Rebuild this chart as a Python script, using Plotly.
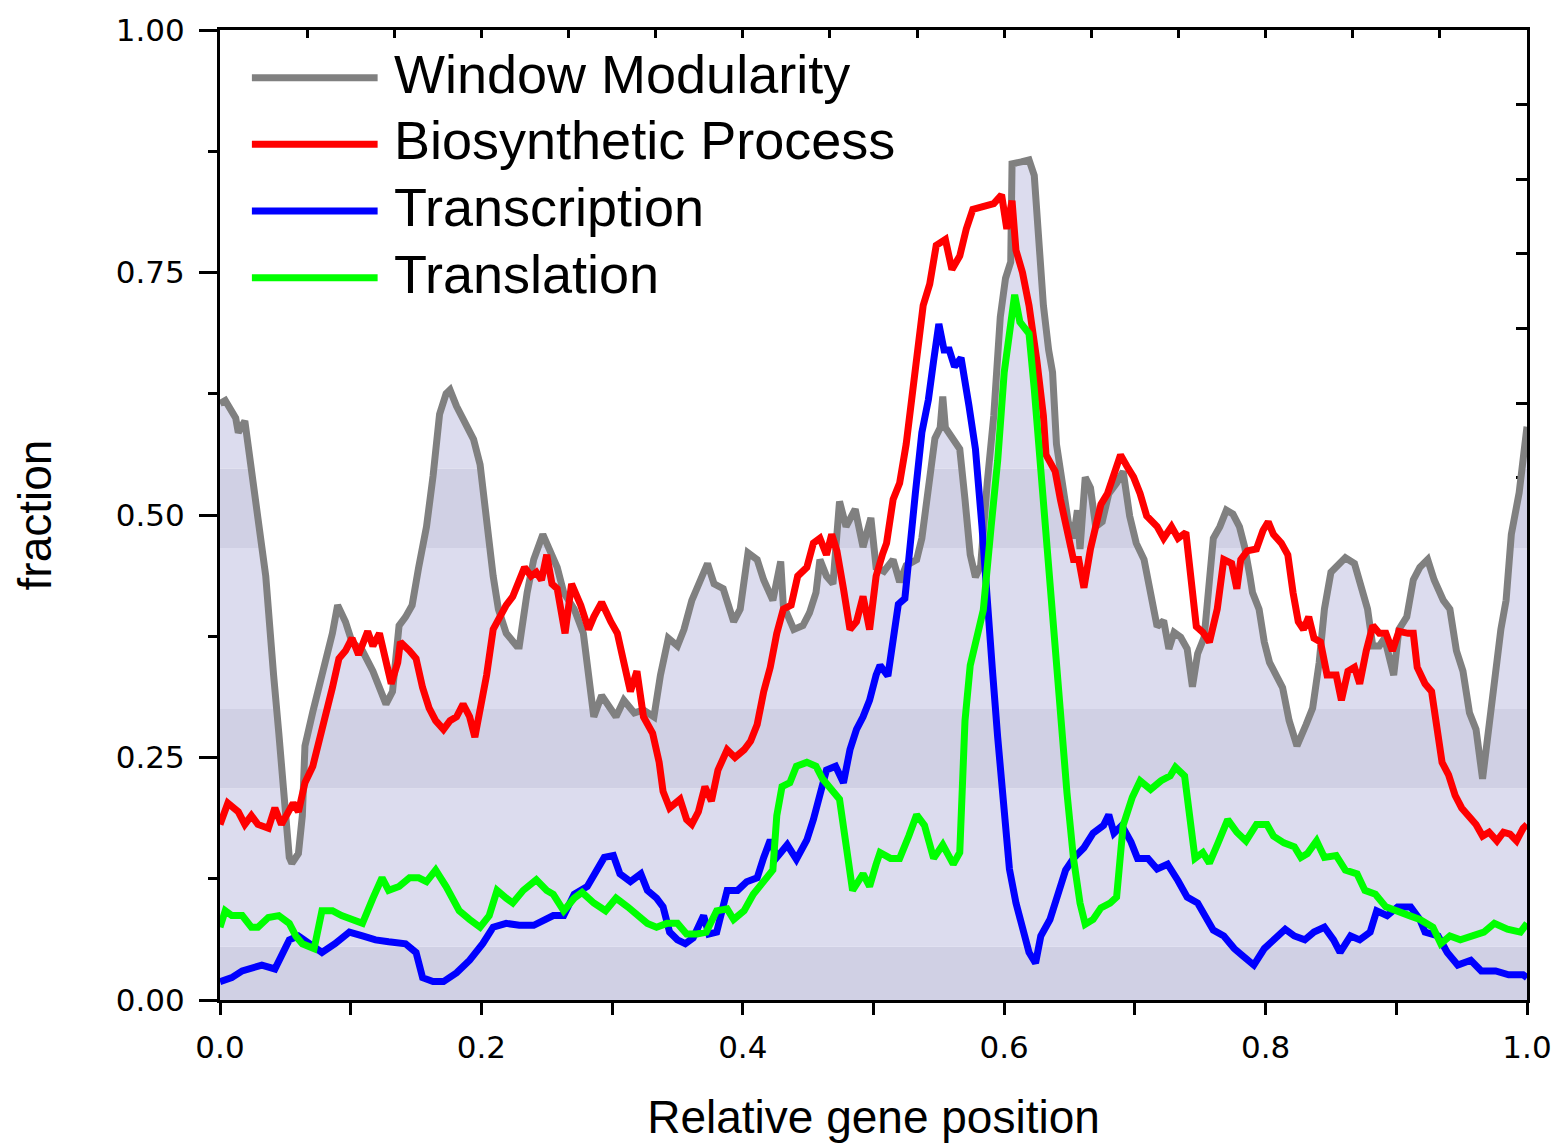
import plotly.graph_objects as go

# ---------------- data ----------------
wm_x = [0.000, 0.004, 0.012, 0.014, 0.019, 0.024, 0.029, 0.035, 0.037, 0.041, 0.045, 0.049, 0.053, 0.055,
        0.060, 0.063, 0.065, 0.071, 0.076, 0.081, 0.086, 0.090, 0.096, 0.101, 0.109, 0.117, 0.124, 0.127,
        0.132, 0.137, 0.142, 0.147, 0.152, 0.158, 0.163, 0.168, 0.173, 0.176, 0.181, 0.186, 0.194, 0.199,
        0.204, 0.209, 0.213, 0.219, 0.227, 0.229, 0.235, 0.240, 0.247, 0.253, 0.258, 0.263, 0.271, 0.278,
        0.282, 0.286, 0.292, 0.299, 0.303, 0.309, 0.317, 0.324, 0.332, 0.337, 0.343, 0.350, 0.355, 0.361,
        0.367, 0.373, 0.378, 0.385, 0.393, 0.398, 0.404, 0.411, 0.416, 0.423, 0.429, 0.431, 0.439, 0.446,
        0.451, 0.456, 0.459, 0.464, 0.469, 0.474, 0.479, 0.486, 0.492, 0.498, 0.502, 0.508, 0.515, 0.520,
        0.525, 0.533, 0.537, 0.542, 0.547, 0.551, 0.553, 0.555, 0.561, 0.566, 0.570, 0.574, 0.578, 0.582,
        0.587, 0.592, 0.597, 0.601, 0.605, 0.606, 0.613, 0.619, 0.623, 0.626, 0.630, 0.634, 0.637, 0.640,
        0.644, 0.649, 0.653, 0.656, 0.658, 0.662, 0.666, 0.670, 0.675, 0.680, 0.686, 0.691, 0.696, 0.701,
        0.707, 0.712, 0.717, 0.722, 0.726, 0.730, 0.735, 0.740, 0.744, 0.748, 0.753, 0.760, 0.765, 0.770,
        0.775, 0.780, 0.784, 0.788, 0.790, 0.795, 0.799, 0.803, 0.808, 0.813, 0.818, 0.824, 0.831, 0.836,
        0.841, 0.845, 0.850, 0.856, 0.861, 0.868, 0.873, 0.878, 0.882, 0.887, 0.891, 0.898, 0.902, 0.908,
        0.913, 0.918, 0.924, 0.929, 0.936, 0.941, 0.946, 0.951, 0.956, 0.961, 0.966, 0.971, 0.975, 0.980,
        0.984, 0.988, 0.994, 1.000]
wm_y = [0.615, 0.618, 0.600, 0.585, 0.597, 0.552, 0.497, 0.437, 0.399, 0.335, 0.275, 0.211, 0.147, 0.141,
        0.151, 0.190, 0.262, 0.297, 0.322, 0.348, 0.378, 0.407, 0.390, 0.369, 0.360, 0.339, 0.318, 0.305,
        0.318, 0.386, 0.395, 0.407, 0.446, 0.488, 0.540, 0.604, 0.625, 0.629, 0.612, 0.599, 0.578, 0.552,
        0.488, 0.437, 0.403, 0.378, 0.365, 0.365, 0.420, 0.454, 0.480, 0.463, 0.446, 0.420, 0.403, 0.378,
        0.339, 0.292, 0.314, 0.301, 0.292, 0.309, 0.296, 0.299, 0.292, 0.335, 0.373, 0.365, 0.382, 0.412,
        0.429, 0.450, 0.429, 0.424, 0.390, 0.403, 0.461, 0.454, 0.433, 0.412, 0.452, 0.407, 0.382, 0.386,
        0.399, 0.420, 0.454, 0.437, 0.429, 0.514, 0.488, 0.506, 0.467, 0.497, 0.446, 0.442, 0.454, 0.431,
        0.448, 0.454, 0.476, 0.533, 0.579, 0.590, 0.622, 0.590, 0.579, 0.568, 0.516, 0.459, 0.436, 0.448,
        0.533, 0.602, 0.704, 0.744, 0.761, 0.862, 0.864, 0.866, 0.850, 0.784, 0.716, 0.670, 0.647, 0.573,
        0.533, 0.493, 0.476, 0.505, 0.465, 0.539, 0.528, 0.488, 0.493, 0.522, 0.533, 0.545, 0.499, 0.471,
        0.454, 0.419, 0.385, 0.391, 0.362, 0.379, 0.374, 0.362, 0.323, 0.357, 0.374, 0.476, 0.488, 0.505,
        0.501, 0.488, 0.467, 0.437, 0.420, 0.403, 0.369, 0.348, 0.335, 0.322, 0.288, 0.262, 0.284, 0.301,
        0.348, 0.403, 0.441, 0.450, 0.456, 0.450, 0.424, 0.403, 0.365, 0.365, 0.373, 0.335, 0.382, 0.395,
        0.433, 0.446, 0.454, 0.433, 0.412, 0.403, 0.360, 0.339, 0.296, 0.279, 0.228, 0.288, 0.331, 0.382,
        0.412, 0.480, 0.523, 0.591]

bio_x = [0.000, 0.006, 0.014, 0.019, 0.024, 0.029, 0.037, 0.042, 0.047, 0.053, 0.056, 0.060, 0.065, 0.071,
         0.076, 0.081, 0.086, 0.091, 0.096, 0.101, 0.106, 0.113, 0.117, 0.122, 0.127, 0.131, 0.136, 0.138,
         0.145, 0.150, 0.155, 0.160, 0.165, 0.171, 0.176, 0.181, 0.186, 0.191, 0.195, 0.199, 0.204, 0.209,
         0.214, 0.219, 0.224, 0.229, 0.233, 0.238, 0.242, 0.246, 0.250, 0.254, 0.258, 0.264, 0.269, 0.276,
         0.282, 0.286, 0.292, 0.299, 0.304, 0.309, 0.314, 0.319, 0.324, 0.331, 0.336, 0.339, 0.344, 0.352,
         0.357, 0.361, 0.366, 0.371, 0.376, 0.381, 0.388, 0.394, 0.401, 0.406, 0.411, 0.416, 0.421, 0.426,
         0.431, 0.437, 0.442, 0.449, 0.454, 0.459, 0.464, 0.468, 0.472, 0.477, 0.482, 0.487, 0.492, 0.497,
         0.502, 0.507, 0.510, 0.515, 0.520, 0.525, 0.529, 0.533, 0.538, 0.543, 0.548, 0.555, 0.560, 0.566,
         0.571, 0.576, 0.584, 0.592, 0.598, 0.602, 0.606, 0.609, 0.614, 0.619, 0.625, 0.630, 0.632, 0.639,
         0.643, 0.648, 0.653, 0.657, 0.661, 0.666, 0.674, 0.679, 0.684, 0.689, 0.694, 0.699, 0.704, 0.709,
         0.717, 0.722, 0.728, 0.733, 0.739, 0.743, 0.747, 0.752, 0.757, 0.763, 0.768, 0.774, 0.778, 0.781,
         0.786, 0.793, 0.798, 0.802, 0.806, 0.812, 0.817, 0.821, 0.825, 0.829, 0.833, 0.837, 0.842, 0.847,
         0.854, 0.858, 0.863, 0.868, 0.872, 0.877, 0.882, 0.887, 0.892, 0.897, 0.902, 0.909, 0.913, 0.916,
         0.922, 0.927, 0.931, 0.935, 0.940, 0.945, 0.950, 0.956, 0.961, 0.966, 0.971, 0.977, 0.982, 0.987,
         0.992, 0.997, 1.000]
bio_y = [0.181, 0.203, 0.194, 0.181, 0.190, 0.181, 0.177, 0.198, 0.181, 0.198, 0.203, 0.194, 0.224, 0.241,
         0.267, 0.292, 0.322, 0.352, 0.360, 0.373, 0.356, 0.380, 0.365, 0.378, 0.352, 0.326, 0.348, 0.369,
         0.360, 0.352, 0.322, 0.301, 0.288, 0.279, 0.288, 0.292, 0.305, 0.292, 0.271, 0.296, 0.335, 0.382,
         0.395, 0.407, 0.416, 0.433, 0.446, 0.437, 0.441, 0.433, 0.459, 0.429, 0.424, 0.378, 0.429, 0.407,
         0.382, 0.395, 0.410, 0.390, 0.378, 0.348, 0.318, 0.339, 0.292, 0.275, 0.245, 0.215, 0.198, 0.207,
         0.186, 0.181, 0.194, 0.220, 0.205, 0.237, 0.258, 0.250, 0.258, 0.267, 0.284, 0.318, 0.343, 0.378,
         0.403, 0.407, 0.437, 0.446, 0.471, 0.476, 0.459, 0.480, 0.463, 0.424, 0.382, 0.390, 0.416, 0.382,
         0.437, 0.460, 0.471, 0.516, 0.533, 0.573, 0.619, 0.670, 0.716, 0.738, 0.778, 0.784, 0.753, 0.767,
         0.795, 0.815, 0.818, 0.821, 0.830, 0.795, 0.824, 0.773, 0.750, 0.716, 0.659, 0.602, 0.562, 0.545,
         0.516, 0.488, 0.454, 0.454, 0.425, 0.465, 0.511, 0.522, 0.545, 0.562, 0.550, 0.539, 0.522, 0.499,
         0.488, 0.476, 0.488, 0.476, 0.482, 0.431, 0.385, 0.379, 0.369, 0.403, 0.454, 0.450, 0.424, 0.454,
         0.463, 0.465, 0.484, 0.493, 0.480, 0.471, 0.459, 0.420, 0.390, 0.382, 0.395, 0.373, 0.369, 0.335,
         0.335, 0.309, 0.339, 0.343, 0.326, 0.360, 0.386, 0.378, 0.378, 0.360, 0.380, 0.378, 0.378, 0.343,
         0.326, 0.318, 0.275, 0.245, 0.232, 0.211, 0.198, 0.190, 0.181, 0.169, 0.173, 0.164, 0.173, 0.171,
         0.164, 0.177, 0.181]

tsc_x = [0.000, 0.009, 0.017, 0.024, 0.032, 0.042, 0.047, 0.053, 0.060, 0.068, 0.078, 0.088, 0.099, 0.109,
         0.119, 0.129, 0.142, 0.150, 0.155, 0.163, 0.171, 0.181, 0.191, 0.201, 0.209, 0.219, 0.229, 0.240,
         0.250, 0.255, 0.263, 0.271, 0.281, 0.288, 0.294, 0.301, 0.306, 0.314, 0.322, 0.327, 0.334, 0.339,
         0.344, 0.350, 0.356, 0.362, 0.370, 0.374, 0.380, 0.388, 0.396, 0.403, 0.411, 0.416, 0.421, 0.426,
         0.434, 0.441, 0.449, 0.454, 0.459, 0.464, 0.471, 0.477, 0.482, 0.487, 0.492, 0.497, 0.502, 0.505,
         0.511, 0.515, 0.519, 0.524, 0.528, 0.532, 0.537, 0.542, 0.546, 0.550, 0.554, 0.558, 0.562, 0.567,
         0.573, 0.578, 0.583, 0.587, 0.591, 0.595, 0.599, 0.604, 0.609, 0.614, 0.619, 0.624, 0.628, 0.635,
         0.641, 0.647, 0.653, 0.661, 0.668, 0.676, 0.680, 0.684, 0.690, 0.697, 0.702, 0.710, 0.717, 0.725,
         0.733, 0.740, 0.748, 0.756, 0.760, 0.768, 0.776, 0.783, 0.791, 0.799, 0.807, 0.815, 0.822, 0.830,
         0.837, 0.845, 0.852, 0.857, 0.865, 0.872, 0.880, 0.885, 0.893, 0.901, 0.911, 0.918, 0.922, 0.932,
         0.939, 0.947, 0.957, 0.965, 0.976, 0.986, 0.997, 1.000]
tsc_y = [0.019, 0.023, 0.030, 0.032, 0.036, 0.032, 0.045, 0.062, 0.066, 0.058, 0.049, 0.058, 0.070, 0.066,
         0.062, 0.060, 0.058, 0.049, 0.023, 0.019, 0.019, 0.028, 0.041, 0.058, 0.075, 0.079, 0.077, 0.077,
         0.083, 0.087, 0.087, 0.109, 0.117, 0.134, 0.147, 0.149, 0.130, 0.122, 0.130, 0.113, 0.105, 0.096,
         0.070, 0.062, 0.058, 0.064, 0.087, 0.068, 0.070, 0.113, 0.113, 0.122, 0.126, 0.147, 0.165, 0.147,
         0.160, 0.145, 0.165, 0.186, 0.211, 0.237, 0.241, 0.224, 0.258, 0.279, 0.292, 0.309, 0.335, 0.345,
         0.334, 0.374, 0.408, 0.414, 0.476, 0.522, 0.585, 0.619, 0.659, 0.697, 0.670, 0.670, 0.653, 0.662,
         0.613, 0.568, 0.488, 0.402, 0.340, 0.271, 0.203, 0.135, 0.100, 0.072, 0.049, 0.038, 0.066, 0.083,
         0.106, 0.134, 0.146, 0.157, 0.172, 0.180, 0.191, 0.172, 0.180, 0.163, 0.146, 0.146, 0.135, 0.140,
         0.123, 0.106, 0.100, 0.083, 0.072, 0.066, 0.053, 0.045, 0.036, 0.053, 0.062, 0.073, 0.066, 0.062,
         0.070, 0.075, 0.062, 0.049, 0.066, 0.062, 0.070, 0.092, 0.087, 0.096, 0.096, 0.083, 0.070, 0.066,
         0.049, 0.036, 0.041, 0.030, 0.030, 0.026, 0.026, 0.023]

tsl_x = [0.000, 0.004, 0.009, 0.017, 0.024, 0.029, 0.037, 0.045, 0.053, 0.058, 0.063, 0.072, 0.078, 0.086,
         0.093, 0.101, 0.109, 0.117, 0.124, 0.129, 0.137, 0.145, 0.152, 0.158, 0.165, 0.173, 0.178, 0.183,
         0.191, 0.199, 0.206, 0.212, 0.219, 0.224, 0.232, 0.242, 0.250, 0.255, 0.263, 0.271, 0.277, 0.286,
         0.295, 0.303, 0.312, 0.319, 0.327, 0.334, 0.342, 0.350, 0.357, 0.365, 0.372, 0.380, 0.388, 0.393,
         0.401, 0.408, 0.416, 0.423, 0.426, 0.430, 0.436, 0.441, 0.449, 0.456, 0.461, 0.469, 0.474, 0.479,
         0.484, 0.492, 0.497, 0.502, 0.505, 0.513, 0.520, 0.527, 0.533, 0.539, 0.546, 0.553, 0.561, 0.566,
         0.570, 0.574, 0.579, 0.584, 0.590, 0.595, 0.600, 0.605, 0.608, 0.612, 0.619, 0.623, 0.628, 0.633,
         0.638, 0.643, 0.648, 0.653, 0.658, 0.662, 0.668, 0.674, 0.681, 0.686, 0.691, 0.698, 0.704, 0.712,
         0.720, 0.727, 0.731, 0.738, 0.742, 0.746, 0.752, 0.757, 0.763, 0.771, 0.778, 0.785, 0.793, 0.801,
         0.806, 0.814, 0.822, 0.827, 0.832, 0.839, 0.845, 0.854, 0.861, 0.870, 0.876, 0.884, 0.892, 0.902,
         0.910, 0.918, 0.928, 0.934, 0.941, 0.949, 0.959, 0.967, 0.975, 0.985, 0.995, 1.000]
tsl_y = [0.075, 0.092, 0.087, 0.087, 0.075, 0.075, 0.085, 0.087, 0.079, 0.066, 0.058, 0.053, 0.092, 0.092,
         0.087, 0.083, 0.079, 0.105, 0.126, 0.113, 0.117, 0.126, 0.126, 0.122, 0.134, 0.117, 0.105, 0.092,
         0.083, 0.075, 0.087, 0.113, 0.105, 0.100, 0.113, 0.124, 0.113, 0.109, 0.092, 0.105, 0.111, 0.100,
         0.092, 0.105, 0.096, 0.087, 0.079, 0.075, 0.079, 0.079, 0.068, 0.068, 0.070, 0.092, 0.094, 0.083,
         0.092, 0.109, 0.122, 0.134, 0.190, 0.220, 0.224, 0.241, 0.245, 0.241, 0.228, 0.215, 0.207, 0.160,
         0.113, 0.130, 0.117, 0.140, 0.152, 0.146, 0.146, 0.169, 0.191, 0.180, 0.146, 0.160, 0.140, 0.152,
         0.288, 0.345, 0.374, 0.402, 0.488, 0.556, 0.647, 0.704, 0.727, 0.699, 0.687, 0.630, 0.545, 0.454,
         0.374, 0.300, 0.214, 0.146, 0.100, 0.078, 0.083, 0.095, 0.100, 0.106, 0.180, 0.209, 0.226, 0.217,
         0.226, 0.231, 0.240, 0.231, 0.191, 0.146, 0.152, 0.141, 0.160, 0.186, 0.173, 0.164, 0.181, 0.181,
         0.169, 0.162, 0.158, 0.147, 0.151, 0.164, 0.147, 0.149, 0.134, 0.130, 0.113, 0.109, 0.096, 0.092,
         0.087, 0.083, 0.075, 0.058, 0.066, 0.062, 0.066, 0.070, 0.079, 0.073, 0.070, 0.079]

series_names = ["Window Modularity", "Biosynthetic Process", "Transcription", "Translation"]
series_colors = ["#808080", "#ff0000", "#0000ff", "#00ff00"]

# shaded horizontal bands under the Window Modularity curve
band_levels = [0.055, 0.218, 0.300, 0.466, 0.548, 1.0]
band_colors = ["#d0d0e4", "#dcdcee", "#d0d0e4", "#dcdcee", "#d0d0e4", "#dcdcee"]

x_ticks = [0.0, 0.2, 0.4, 0.6, 0.8, 1.0]
y_ticks = [0.0, 0.25, 0.5, 0.75, 1.0]


def clip_below(xs, ys, level):
    cx, cy = [xs[0]], [min(ys[0], level)]
    for i in range(1, len(xs)):
        y0, y1 = ys[i - 1], ys[i]
        if (y0 - level) * (y1 - level) < 0:
            t = (level - y0) / (y1 - y0)
            cx.append(xs[i - 1] + t * (xs[i] - xs[i - 1]))
            cy.append(level)
        cx.append(xs[i])
        cy.append(min(y1, level))
    return cx, cy


fig = go.Figure()

for k, (lvl, col) in enumerate(zip(band_levels, band_colors)):
    bx, by = clip_below(wm_x, wm_y, lvl)
    fig.add_trace(go.Scatter(
        x=bx, y=by, mode="lines", line=dict(width=0, color=col),
        fill="tozeroy" if k == 0 else "tonexty", fillcolor=col,
        hoverinfo="skip", showlegend=False))

for name, xs, ys, col in zip(series_names, [wm_x, bio_x, tsc_x, tsl_x],
                             [wm_y, bio_y, tsc_y, tsl_y], series_colors):
    fig.add_trace(go.Scatter(x=xs, y=ys, name=name, mode="lines",
                             line=dict(color=col, width=7), showlegend=False))

# helper trace so the mirrored (top / right) axes are rendered
fig.add_trace(go.Scatter(x=[None], y=[None], xaxis="x2", yaxis="y2",
                         showlegend=False, hoverinfo="skip"))

# manual legend (long line samples like the original)
row_y = [0.9508, 0.8821, 0.8133, 0.7446]
for name, col, yy in zip(series_names, series_colors, row_y):
    fig.add_shape(type="line", xref="paper", yref="paper",
                  x0=0.0244, x1=0.1206, y0=yy, y1=yy,
                  line=dict(color=col, width=7))
    fig.add_annotation(text=name, xref="paper", yref="paper", x=0.1313, y=yy + 0.004,
                       xanchor="left", yanchor="middle", showarrow=False,
                       font=dict(family="Liberation Sans, Arial", size=54, color="black"))

tick_font = dict(family="DejaVu Sans", size=31, color="black")
title_font = dict(family="Liberation Sans, Arial", size=46, color="black")

fig.update_layout(
    width=1564, height=1146,
    margin=dict(l=220, r=34, t=27, b=144),
    paper_bgcolor="white", plot_bgcolor="white",
    xaxis=dict(range=[0, 1], tickvals=x_ticks, tickformat=".1f",
               ticks="outside", ticklen=12, tickwidth=3, tickcolor="black",
               minor=dict(dtick=0.1, tick0=0, ticks="outside", ticklen=12, tickwidth=3, tickcolor="black"),
               showline=True, linewidth=3, linecolor="black", showgrid=False, zeroline=False,
               tickfont=tick_font, ticklabelstandoff=6,
               title=dict(text="Relative gene position", font=title_font, standoff=37)),
    yaxis=dict(range=[0, 1], tickvals=y_ticks, tickformat=".2f",
               ticks="outside", ticklen=18, tickwidth=3, tickcolor="black",
               minor=dict(dtick=0.125, tick0=0, ticks="outside", ticklen=9, tickwidth=3, tickcolor="black"),
               showline=True, linewidth=3, linecolor="black", showgrid=False, zeroline=False,
               tickfont=tick_font, ticklabelstandoff=8,
               title=dict(text="fraction", font=title_font, standoff=50)),
    xaxis2=dict(range=[0, 1], overlaying="x", side="top", showticklabels=False,
                tickvals=[k / 15 for k in range(16)], ticks="inside", ticklen=8, tickwidth=3,
                tickcolor="black", showline=True, linewidth=3, linecolor="black",
                showgrid=False, zeroline=False, layer="below traces"),
    yaxis2=dict(range=[0, 1], overlaying="y", side="right", showticklabels=False,
                tickvals=[k / 13 for k in range(14)], ticks="inside", ticklen=11, tickwidth=3,
                tickcolor="black", showline=True, linewidth=3, linecolor="black",
                showgrid=False, zeroline=False, layer="below traces"),
)

fig.write_html("out.html")
